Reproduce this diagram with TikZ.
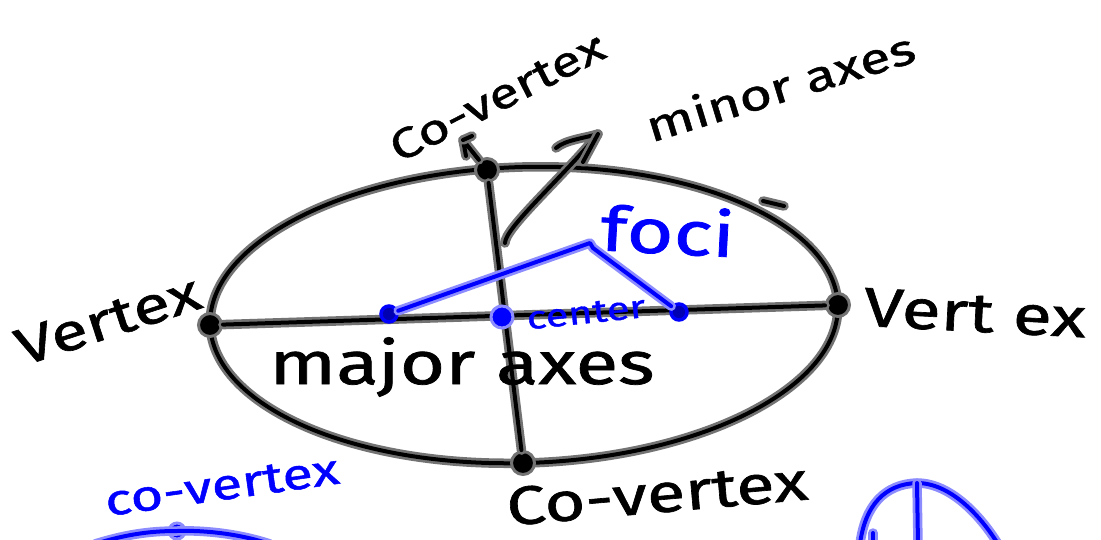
\documentclass[tikz,border=0pt]{standalone}
\usepackage{fontspec}
\setmainfont{Fira Sans}[FakeStretch=1.3, FakeBold=1.2]
\usetikzlibrary{arrows.meta}
\tikzset{
  ink/.style={preaction={draw=black!55,line width=9.5pt,line cap=round,line join=round},
              draw=black, line width=4pt, line cap=round, line join=round},
  bink/.style={preaction={draw=blue!45,line width=9.5pt,line cap=round,line join=round},
              draw=blue, line width=4pt, line cap=round, line join=round},
  lbl/.style={inner sep=0pt, text=black},
  blbl/.style={inner sep=0pt, text=blue},
  kdot/.style={circle, fill=black, draw=black!55, line width=3pt, minimum size=23pt, inner sep=0pt},
  bdot/.style={circle, fill=blue, draw=blue!45, line width=3pt, minimum size=22pt, inner sep=0pt},
  fdot/.style={circle, fill=blue!70!black, draw=blue, line width=3.5pt, minimum size=16pt, inner sep=0pt},
}
\begin{document}
\begin{tikzpicture}[x=1pt,y=-1pt]
\fill[white] (0,0) rectangle (1101,539);
\useasboundingbox (0,0) rectangle (1101,539);

% ellipse
\draw[ink, rotate around={1.8:(524,315)}] (524,315) ellipse (314 and 148);

% vertices / co-vertices
\node[kdot] (lv) at (210,325) {};
\node[kdot] (rv) at (838,305) {};
\node[kdot] (tc) at (487,170) {};
\node[kdot] (bc) at (523,463) {};

% axes
\draw[ink] (lv) -- (rv);
\draw[ink] (tc) -- (bc);

% foci and centre
\node[fdot] (f1) at (389,314) {};
\node[fdot] (f2) at (679,312) {};
\node[bdot] (cc) at (502,317) {};
\coordinate (peak) at (590,243);
\draw[bink] (f1) -- (peak) -- (593,248) -- (f2);

% small arrow to top co-vertex
\coordinate (smalltip) at (463,140);
\draw[ink] (tc) -- (smalltip) -- (466,156);
\draw[ink] (smalltip) -- (472,136);

% big arrow to minor axes
\coordinate (bigtail) at (505,243);
\coordinate (bigtip) at (598,134);
\draw[ink] (bigtail) .. controls (505,228) and (560,180) .. (bigtip)
           .. controls (585,138) and (565,140) .. (556,148);
\draw[ink] (bigtip) -- (583,162);

% stray marks
\draw[ink] (763,201) -- (784,206);
\fill[black] (597,41) circle (3);

% labels
\node[lbl, rotate=27, font=\fontsize{42}{46}\selectfont] (tcl) at (497,97) {Co-vertex};
\node[lbl, rotate=17, font=\fontsize{43}{47}\selectfont] (minl) at (780,86) {minor axes};
\node[lbl, rotate=18, font=\fontsize{52}{56}\selectfont] (lvl) at (108,320) {Vertex};
\node[lbl, rotate=-3, font=\fontsize{55}{60}\selectfont] (rvl) at (975,313) {Vert ex};
\node[lbl, font=\fontsize{60}{64}\selectfont] (majl) at (462,367) {major axes};
\node[lbl, rotate=5, font=\fontsize{54}{58}\selectfont] (bcl) at (657,494) {Co-vertex};
\node[blbl, rotate=-3, font=\fontsize{62}{66}\selectfont] (focl) at (668,230) {foci};
\node[blbl, rotate=6, font=\fontsize{32}{36}\selectfont] (cenl) at (586,313) {center};
\node[blbl, rotate=8, font=\fontsize{43}{47}\selectfont] (bcol) at (222,486) {co-vertex};

% bottom-left blue sketch
\node[bdot, minimum size=16pt] (bld) at (177,531) {};
\draw[bink] (95,544) .. controls (130,533) and (155,531) .. (bld.center)
            .. controls (205,530) and (240,534) .. (270,544);

% bottom-right blue sketch
\coordinate (brtop) at (917,483);
\draw[bink] (860,544) .. controls (865,505) and (885,484) .. (brtop)
            .. controls (950,483) and (980,515) .. (998,544);
\draw[bink] (brtop) -- (918,544);
\draw[bink] (873,533) -- (873,544);
\end{tikzpicture}
\end{document}
